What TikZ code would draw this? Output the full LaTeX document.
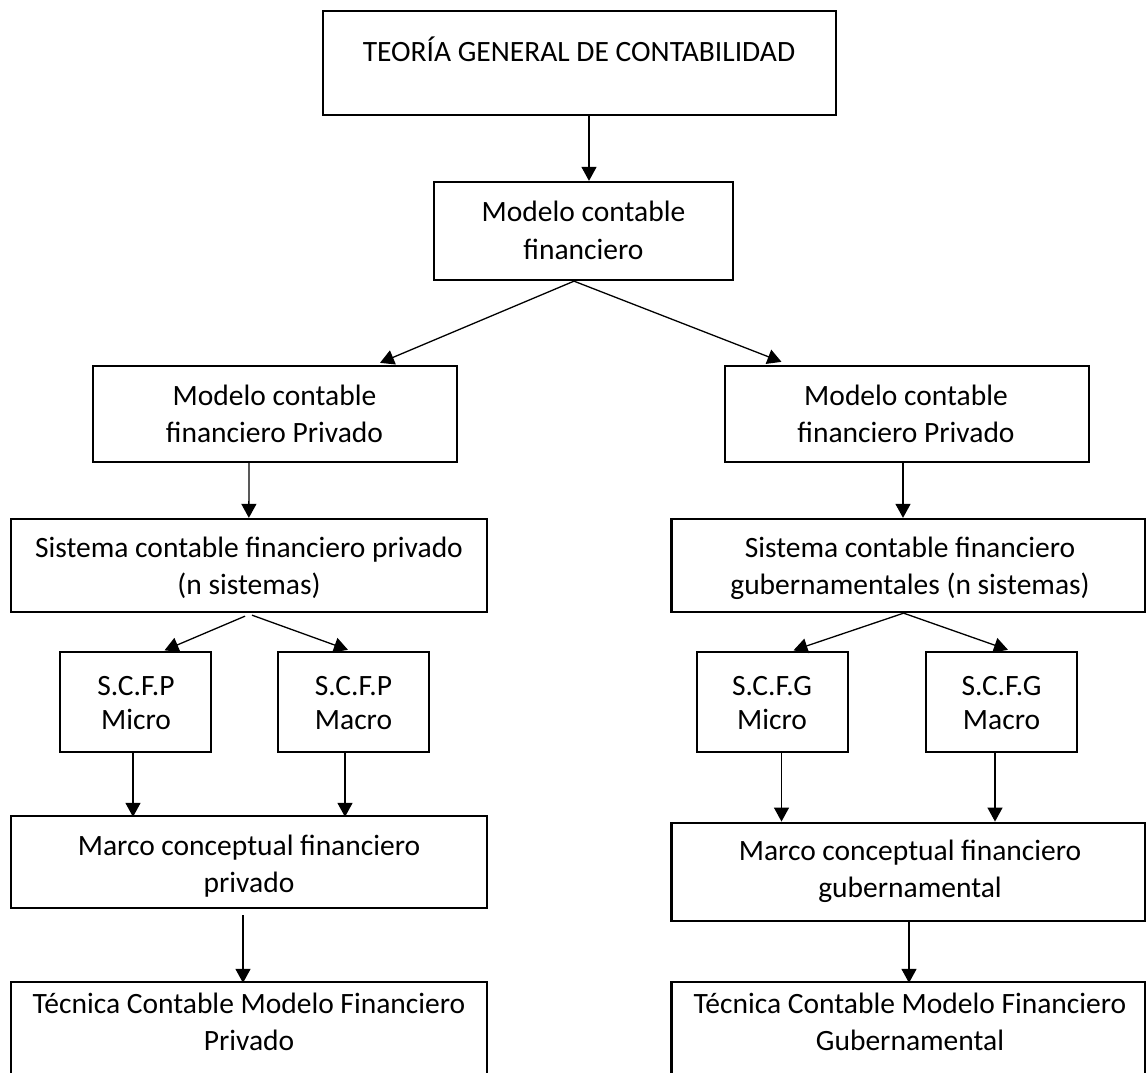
\documentclass[tikz,border=0pt]{standalone}
\usepackage{fontspec}
\setmainfont{Carlito}
\usetikzlibrary{arrows.meta}
\newcommand{\twol}[1]{\begin{tabular}[t]{@{}c@{}}#1\end{tabular}}
\begin{document}
\begin{tikzpicture}[x=1pt,y=-1pt,
  box/.style={draw=black, line width=2.3pt, inner sep=0pt},
  txt/.style={anchor=base, inner sep=0pt, font=\fontsize{29.5}{37.5}\selectfont},
  txts/.style={anchor=base, inner sep=0pt, font=\fontsize{29.5}{34}\selectfont},
  arr/.style={draw=black, line width=1.3pt, -{Triangle[length=14pt,width=15pt]}}]
\fill[white] (0,0) rectangle (1147,1072);
\useasboundingbox (0,0) rectangle (1147,1072);
% boxes
\node[box, minimum width=513pt, minimum height=104.3pt] (T0) at (579.5,62.85) {};
\node[box, minimum width=299pt, minimum height=98pt] (B1) at (583.5,231) {};
\node[box, minimum width=364pt, minimum height=96pt] (L1) at (275,414) {};
\node[box, minimum width=364pt, minimum height=96pt] (R1) at (906.8,414) {};
\node[box, minimum width=476.3pt, minimum height=93pt] (L2) at (248.85,565.5) {};
\node[box, minimum width=473.5pt, minimum height=93pt] (R2) at (908.25,565.5) {};
\node[box, minimum width=151pt, minimum height=100pt] (LMi) at (135.5,702) {};
\node[box, minimum width=151pt, minimum height=100pt] (LMa) at (353.5,702) {};
\node[box, minimum width=151pt, minimum height=100pt] (RMi) at (772.5,702) {};
\node[box, minimum width=151pt, minimum height=100pt] (RMa) at (1001.5,702) {};
\node[box, minimum width=476.3pt, minimum height=92pt] (L3) at (248.85,862) {};
\node[box, minimum width=473.5pt, minimum height=98.3pt] (R3) at (908.25,871.85) {};
\node[box, minimum width=476.3pt, minimum height=118pt] (L4) at (248.85,1041) {};
\node[box, minimum width=473.5pt, minimum height=118pt] (R4) at (908.25,1041) {};
% texts
\node[txt] (tT0) at (579,61.5) {TEORÍA GENERAL DE CONTABILIDAD};
\node[txt] (tB1) at (583.5,221.7) {\twol{Modelo contable\\financiero}};
\node[txt] (tL1) at (274.5,405) {\twol{Modelo contable\\financiero Privado}};
\node[txt] (tR1) at (906,405) {\twol{Modelo contable\\financiero Privado}};
\node[txt] (tL2) at (249,557) {\twol{Sistema contable financiero privado\\(n sistemas)}};
\node[txt] (tR2) at (910,557) {\twol{Sistema contable financiero\\gubernamentales (n sistemas)}};
\node[txts] (tLMi) at (136,695) {\twol{S.C.F.P\\Micro}};
\node[txts] (tLMa) at (353.5,695) {\twol{S.C.F.P\\Macro}};
\node[txts] (tRMi) at (772,695) {\twol{S.C.F.G\\Micro}};
\node[txts] (tRMa) at (1001.5,695) {\twol{S.C.F.G\\Macro}};
\node[txt] (tL3) at (249,855) {\twol{Marco conceptual financiero\\privado}};
\node[txt] (tR3) at (910,860) {\twol{Marco conceptual financiero\\gubernamental}};
\node[txt] (tL4) at (249,1013) {\twol{Técnica Contable Modelo Financiero\\Privado}};
\node[txt] (tR4) at (910,1013) {\twol{Técnica Contable Modelo Financiero\\Gubernamental}};
% connectors
\draw[arr] ([xshift=9.5pt]T0.south) -- ([xshift=5.5pt]B1.north);
\draw[arr] ([xshift=-9.5pt]B1.south) -- ([xshift=105pt,yshift=2pt]L1.north);
\draw[arr] ([xshift=-9.5pt]B1.south) -- ([xshift=-125.3pt,yshift=3pt]R1.north);
\draw[arr] ([xshift=-26pt]L1.south) -- (L2.north);
\draw[arr] ([xshift=-3.8pt]R1.south) -- ([xshift=-5.25pt]R2.north);
\draw[arr] ([xshift=-3.85pt,yshift=-3pt]L2.south) -- ([xshift=29pt,yshift=0.5pt]LMi.north);
\draw[arr] ([xshift=3.15pt,yshift=-2pt]L2.south) -- ([xshift=-5.5pt,yshift=1pt]LMa.north);
\draw[arr] ([xshift=-4.65pt]R2.south) -- ([xshift=21pt,yshift=0.5pt]RMi.north);
\draw[arr] ([xshift=-4.65pt]R2.south) -- ([xshift=6.5pt,yshift=1pt]RMa.north);
\draw[arr] ([xshift=-2.5pt]LMi.south) -- ([xshift=-115.85pt,yshift=-2pt]L3.north);
\draw[arr] ([xshift=-8.5pt]LMa.south) -- ([xshift=96.15pt,yshift=-2pt]L3.north);
\draw[arr] ([xshift=9pt]RMi.south) -- ([xshift=-126.75pt]R3.north);
\draw[arr] ([xshift=-6.5pt]RMa.south) -- ([xshift=86.75pt]R3.north);
\draw[arr] ([xshift=-5.85pt,yshift=-6pt]L3.south) -- ([xshift=-5.85pt,yshift=-2pt]L4.north);
\draw[arr] ([xshift=0.75pt]R3.south) -- ([xshift=0.75pt,yshift=-2pt]R4.north);
\end{tikzpicture}
\end{document}
